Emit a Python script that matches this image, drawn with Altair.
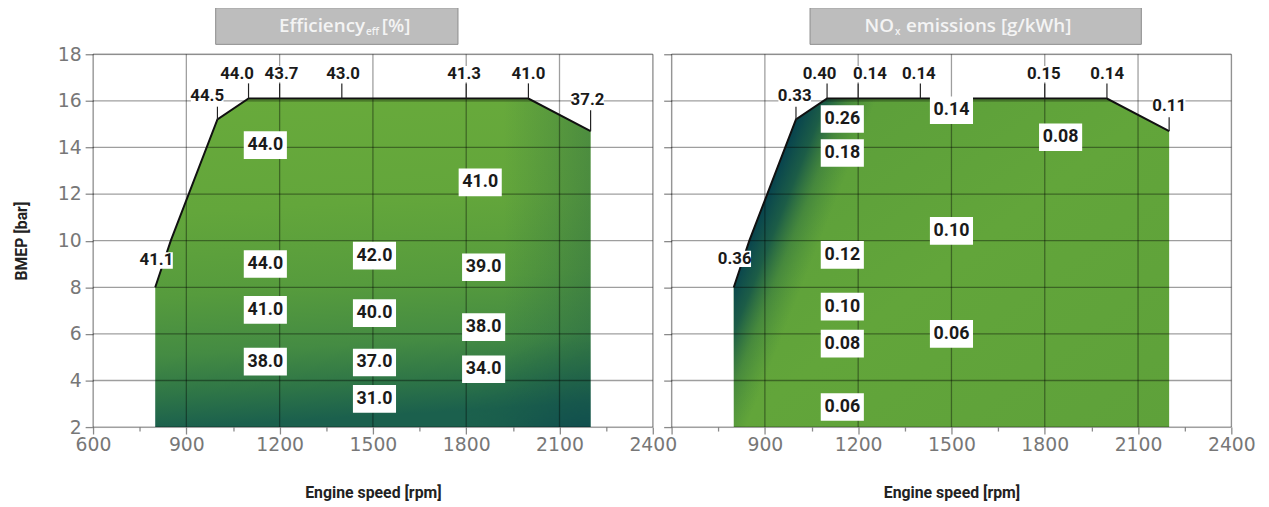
import altair as alt
import pandas as pd

# ---------------- data ----------------
# full-load line (boundary of the operating map)
edge_rpm = [800, 850, 1000, 1100, 2000, 2200]
edge_bmep = [8.0, 10.0, 15.2, 16.1, 16.1, 14.7]
bmep_min = 2.0

# efficiency values along the full-load line
eff_edge_text = ["44.5", "44.0", "43.7", "43.0", "41.3", "41.0", "37.2", "41.1"]
eff_edge_x = [967, 1063, 1206, 1404, 1793, 2000, 2190, 804]
eff_edge_y = [16.2, 17.15, 17.15, 17.15, 17.15, 17.15, 16.05, 9.15]
eff_lead_x = [1000, 1100, 1200, 1400, 1800, 2000, 2200]
eff_lead_y1 = [15.2, 16.1, 16.1, 16.1, 16.1, 16.1, 14.7]
eff_lead_y2 = [15.75, 16.75, 16.75, 16.75, 16.75, 16.75, 15.6]

# efficiency values inside the map
eff_in_text = ["44.0", "41.0", "44.0", "42.0", "39.0", "41.0", "40.0", "38.0",
               "38.0", "37.0", "34.0", "31.0"]
eff_in_x = [1154, 1845, 1154, 1505, 1856, 1154, 1505, 1856, 1154, 1505, 1856, 1505]
eff_in_y = [14.1, 12.5, 9.0, 9.36, 8.86, 7.03, 6.89, 6.29, 4.81, 4.77, 4.48, 3.21]

# NOx values along the full-load line
nox_edge_text = ["0.33", "0.40", "0.14", "0.14", "0.15", "0.14", "0.11", "0.36"]
nox_edge_x = [996, 1076, 1238, 1395, 1797, 2001, 2200, 803]
nox_edge_y = [16.2, 17.15, 17.15, 17.15, 17.15, 17.15, 15.78, 9.22]
nox_lead_x = [1000, 1100, 1200, 1400, 1800, 2000, 2200]
nox_lead_y1 = [15.2, 16.1, 16.1, 16.1, 16.1, 16.1, 14.7]
nox_lead_y2 = [15.75, 16.75, 16.75, 16.75, 16.75, 16.75, 15.3]

# NOx values inside the map
nox_in_text = ["0.26", "0.14", "0.08", "0.18", "0.10", "0.12", "0.10", "0.06",
               "0.08", "0.06"]
nox_in_x = [1149, 1500, 1851, 1149, 1500, 1149, 1149, 1500, 1149, 1149]
nox_in_y = [15.22, 15.6, 14.44, 13.76, 10.42, 9.39, 7.17, 6.0, 5.58, 2.86]

# axes
x_ticks = list(range(600, 2401, 150))
x_grid = list(range(600, 2401, 300))
y_ticks = list(range(2, 19, 1))
y_grid = list(range(2, 19, 2))

# ---------------- style ----------------
W, H = 566, 377
LABEL_FONT = "Roboto"
TITLE_FONT = "Open Sans"
AXIS_FONT = "DejaVu Sans"
X_DOM = [600, 2400]
Y_DOM = [2, 18]

edge_df = pd.DataFrame({"rpm": edge_rpm, "bmep": edge_bmep, "base": bmep_min})
xg_df = pd.DataFrame({"v": x_grid})
yg_df = pd.DataFrame({"v": y_grid})


def xenc(field, axis=alt.Undefined):
    return alt.X(field, type="quantitative", scale=alt.Scale(domain=X_DOM, nice=False, zero=False),
                 axis=axis)


def yenc(field, axis=alt.Undefined):
    return alt.Y(field, type="quantitative", scale=alt.Scale(domain=Y_DOM, nice=False, zero=False),
                 axis=axis)


def make_axes(left):
    xa = alt.Axis(
        values=x_ticks, format="d",
        labelExpr=("datum.value % 300 == 0 ? datum.label : ''" if left else
                   "(datum.value % 300 == 0 && datum.value > 600) ? datum.label : ''"),
        grid=False, domain=False, labelOverlap=False, labelFlush=False,
        tickSize={"condition": {"test": "datum.value % 300 == 0", "value": 7}, "value": 4},
        tickColor="#8a8a8a", tickWidth=1.3,
        labelFont=AXIS_FONT, labelFontSize=19, labelColor="#777777", labelPadding=2,
        title="Engine speed [rpm]", titleFont=LABEL_FONT, titleFontSize=16,
        titleFontWeight="bold", titleColor="#222222", titlePadding=30,
    )
    ya = alt.Axis(
        values=y_ticks, format="d",
        labelExpr="datum.value % 2 == 0 ? datum.label : ''",
        labels=left,
        grid=False, domain=False, labelOverlap=False, labelFlush=False,
        tickSize={"condition": {"test": "datum.value % 2 == 0", "value": 8}, "value": 4},
        tickColor="#8a8a8a", tickWidth=1.3,
        labelFont=AXIS_FONT, labelFontSize=19, labelColor="#777777", labelPadding=4,
        title=("BMEP [bar]" if left else None), titleFont=LABEL_FONT, titleFontSize=16,
        titleFontWeight="bold", titleColor="#222222", titlePadding=28,
    )
    return xa, ya


def panel(left, base_grad, over_grads, edge_text, edge_x, edge_y, lead_x, lead_y1, lead_y2,
          in_text, in_x, in_y, title_parts):
    xa, ya = make_axes(left)
    base = alt.Chart(edge_df).mark_area(color=base_grad, line=False).encode(
        x=xenc("rpm", xa), y=yenc("bmep", ya), y2="base")
    overs = [alt.Chart(edge_df).mark_area(color=g, line=False).encode(
        x=xenc("rpm"), y=yenc("bmep"), y2="base") for g in over_grads]
    vgrid = alt.Chart(xg_df).mark_rule(color="#000000", opacity=0.38, strokeWidth=1.3).encode(
        x=xenc("v"))
    hgrid = alt.Chart(yg_df).mark_rule(color="#000000", opacity=0.38, strokeWidth=1.3).encode(
        y=yenc("v"))
    line = alt.Chart(edge_df).mark_line(color="#111111", strokeWidth=2).encode(
        x=xenc("rpm"), y=yenc("bmep"))
    lead_df = pd.DataFrame({"x": lead_x, "y1": lead_y1, "y2": lead_y2})
    leads = alt.Chart(lead_df).mark_rule(color="#222222", strokeWidth=1.2).encode(
        x=xenc("x"), y=yenc("y1"), y2="y2")
    edf = pd.DataFrame({"t": edge_text, "x": edge_x, "y": edge_y})
    ebg = alt.Chart(edf).mark_point(shape="M-1,-0.5H1V0.5H-1Z", size=1090, filled=True,
                                    color="white", opacity=1, strokeWidth=0).encode(
        x=xenc("x"), y=yenc("y"))
    etx = alt.Chart(edf).mark_text(font=LABEL_FONT, fontSize=17, fontWeight="bold",
                                   color="#1a1a1a").encode(
        x=xenc("x"), y=yenc("y"), text="t:N")
    idf = pd.DataFrame({"t": in_text, "x": in_x, "y": in_y})
    ibg = alt.Chart(idf).mark_point(shape="M-1,-0.64H1V0.64H-1Z", size=1900, filled=True,
                                    color="white", opacity=1, strokeWidth=0).encode(
        x=xenc("x"), y=yenc("y"))
    itx = alt.Chart(idf).mark_text(font=LABEL_FONT, fontSize=18, fontWeight="bold",
                                   color="#1a1a1a").encode(
        x=xenc("x"), y=yenc("y"), text="t:N")
    one = pd.DataFrame({"a": [0]})
    bx0, bx1, parts = title_parts
    box = alt.Chart(one).mark_rect(color="#bdbdbd", stroke="#8c8c8c", strokeWidth=1).encode(
        x=alt.value(bx0), x2=alt.value(bx1), y=alt.value(-47), y2=alt.value(-10))
    layers = [base] + overs + [vgrid, hgrid, line, leads, ebg, etx, ibg, itx, box]
    for txt, px, size, dy, align in parts:
        layers.append(alt.Chart(one).mark_text(font=TITLE_FONT, fontSize=size, fontWeight=600,
                                               color="#f4f4f4", align=align, baseline="middle",
                                               dy=dy).encode(
            x=alt.value(px), y=alt.value(-29), text=alt.value(txt)))
    return alt.layer(*layers).properties(width=W, height=H)


eff_base = {"gradient": "linear", "x1": 0, "y1": 0, "x2": 0.08, "y2": 1,
            "stops": [{"offset": 0, "color": "#68aa3b"},
                      {"offset": 0.35, "color": "#63a63b"},
                      {"offset": 0.6, "color": "#569b3d"},
                      {"offset": 0.78, "color": "#448b43"},
                      {"offset": 0.9, "color": "#2e7547"},
                      {"offset": 1, "color": "#1b604d"}]}
eff_right = {"gradient": "linear", "x1": 1, "y1": 0.5, "x2": 0.8, "y2": 0.5,
             "stops": [{"offset": 0, "color": "rgba(30,90,70,0.35)"},
                       {"offset": 1, "color": "rgba(30,90,70,0)"}]}
eff_corner = {"gradient": "radial", "x1": 1, "y1": 1, "r1": 0, "x2": 1, "y2": 1, "r2": 0.34,
              "stops": [{"offset": 0, "color": "rgba(4,60,86,1)"},
                        {"offset": 0.35, "color": "rgba(10,70,80,0.65)"},
                        {"offset": 1, "color": "rgba(30,100,70,0)"}]}
nox_base = {"gradient": "linear", "x1": 0, "y1": 0, "x2": 1, "y2": 1,
            "stops": [{"offset": 0, "color": "#5a9d3a"},
                      {"offset": 0.5, "color": "#62a53a"},
                      {"offset": 1, "color": "#5ea13a"}]}
nox_edge = {"gradient": "linear", "x1": 0.09, "y1": 0.25, "x2": 0.24, "y2": 0.295,
            "stops": [{"offset": 0, "color": "rgba(8,68,78,1)"},
                      {"offset": 0.3, "color": "rgba(12,76,74,0.8)"},
                      {"offset": 0.6, "color": "rgba(25,90,66,0.35)"},
                      {"offset": 1, "color": "rgba(40,110,60,0)"}]}

left = panel(True, eff_base, [eff_right, eff_corner], eff_edge_text, eff_edge_x, eff_edge_y,
             eff_lead_x, eff_lead_y1, eff_lead_y2, eff_in_text, eff_in_x, eff_in_y,
             (124, 369, [("Efficiency", 275, 19, 0, "right"), ("eff", 276, 10, 7, "left"),
                         ("[%]", 292, 19, 0, "left")]))
right = panel(False, nox_base, [nox_edge], nox_edge_text, nox_edge_x, nox_edge_y,
              nox_lead_x, nox_lead_y1, nox_lead_y2, nox_in_text, nox_in_x, nox_in_y,
              (140, 475, [("NO", 225, 19, 0, "right"), ("x", 226, 10, 7, "left"),
                          ("emissions [g/kWh]", 237, 19, 0, "left")]))

chart = alt.hconcat(left, right, spacing=19, bounds="flush").properties(
    padding={"left": 5, "top": -4, "right": 5, "bottom": 0}
).configure_view(stroke="#9a9a9a", strokeWidth=1.5).configure(background="white")

chart.save("out.html", embed_options={"renderer": "svg", "actions": False})
